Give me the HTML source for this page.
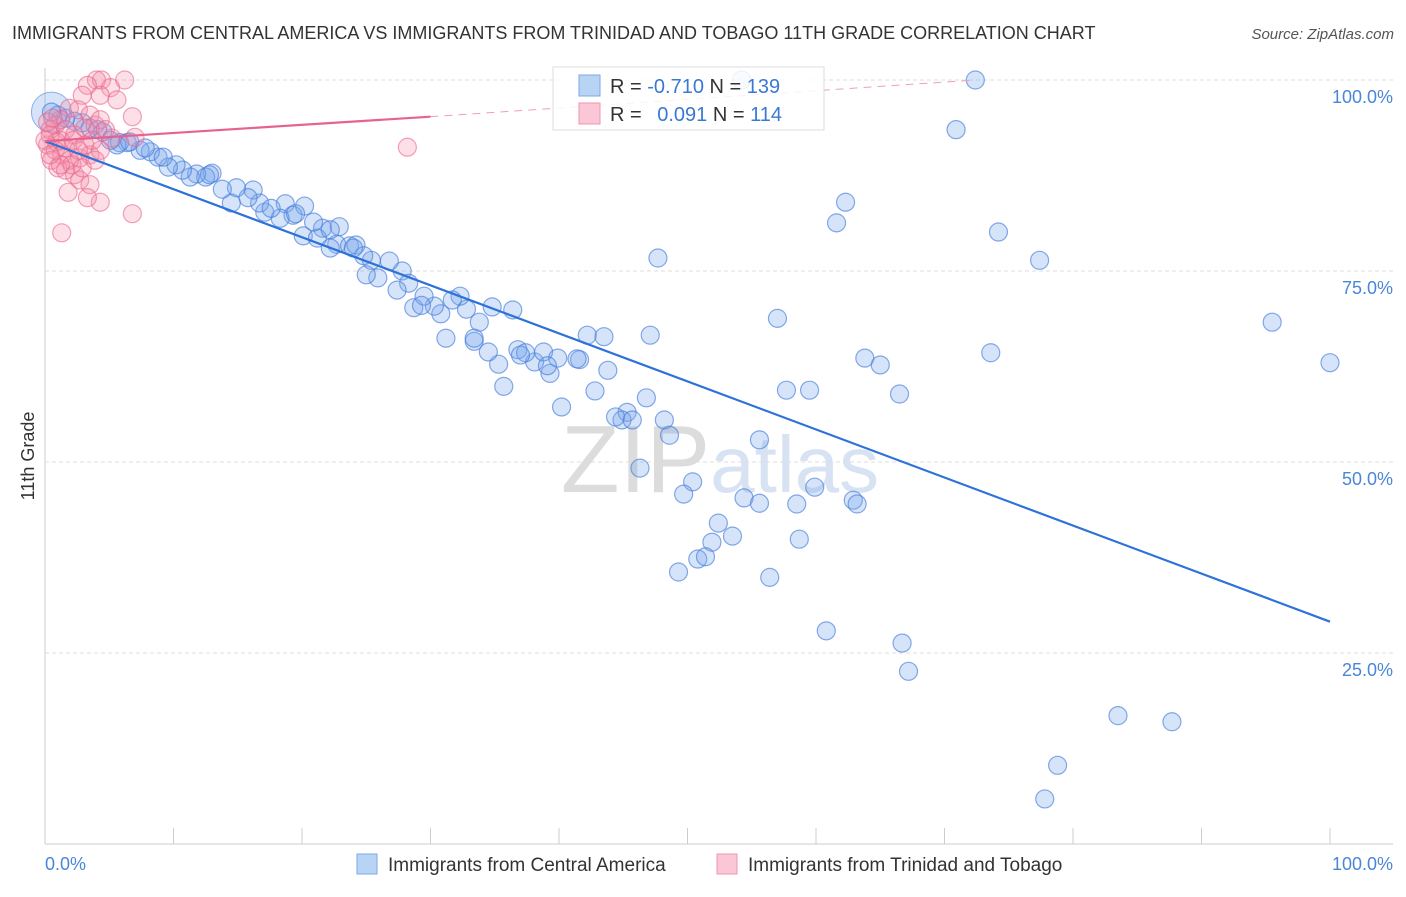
<!DOCTYPE html>
<html><head><meta charset="utf-8"><style>
body{margin:0;background:#fff;width:1406px;height:892px;overflow:hidden;font-family:"Liberation Sans",sans-serif}
svg text{font-family:"Liberation Sans",sans-serif}
</style></head><body>
<svg id="c" width="1406" height="892" xmlns="http://www.w3.org/2000/svg">
<text x="12" y="39" font-size="18" fill="#333">IMMIGRANTS FROM CENTRAL AMERICA VS IMMIGRANTS FROM TRINIDAD AND TOBAGO 11TH GRADE CORRELATION CHART</text>
<text x="1394" y="39" font-size="15" fill="#555" font-style="italic" text-anchor="end">Source: ZipAtlas.com</text>
<text x="34" y="456" font-size="18" fill="#333" text-anchor="middle" transform="rotate(-90 34 456)">11th Grade</text>
<text x="720" y="492" font-size="96" fill="#e6e6e6" text-anchor="middle" font-family="Liberation Serif"><tspan fill="#dcdcdc">ZIP</tspan><tspan fill="#d7e3f3" font-family="Liberation Sans" font-size="80">atlas</tspan></text>
<g id="grid"></g><g id="pts"></g><g id="lines"></g>
<g>
<rect x="553" y="67" width="271" height="63" fill="#fff" fill-opacity="0.85" stroke="#ddd"/>
<rect x="579" y="75" width="21" height="21" fill="#b9d3f5" stroke="#7aa8e8"/>
<rect x="579" y="103" width="21" height="21" fill="#fbc7d6" stroke="#ee94b0"/>
<text x="610" y="93" font-size="20" fill="#333">R = <tspan fill="#3a78d6">-0.710</tspan>   N = <tspan fill="#3a78d6">139</tspan></text>
<text x="610" y="121" font-size="20" fill="#333">R = <tspan fill="#3a78d6" dx="10">0.091</tspan>   N = <tspan fill="#3a78d6">114</tspan></text>
</g>
<g>
<rect x="357" y="854" width="20" height="20" fill="#b9d3f5" stroke="#7aa8e8"/>
<text x="388" y="871" font-size="19" fill="#333">Immigrants from Central America</text>
<rect x="717" y="854" width="20" height="20" fill="#fbc7d6" stroke="#ee94b0"/>
<text x="748" y="871" font-size="19" fill="#333">Immigrants from Trinidad and Tobago</text>
</g>
<text x="45" y="870" font-size="18" fill="#4a86d8">0.0%</text>
<text x="1393" y="870" font-size="18" fill="#4a86d8" text-anchor="end">100.0%</text>
</svg>
<script>
const blueX=[72.4,70.9,62.3,61.6,74.2,77.4,47.7,95.5,100,57.0,73.6,63.8,65.0,66.5,47.1,42.2,43.5,57.7,59.5,55.6,48.2,45.3,44.9,46.8,48.6,46.3,50.4,49.7,54.4,55.6,58.5,59.9,62.9,63.2,52.4,51.9,53.5,58.7,50.8,51.4,49.3,56.4,60.8,66.7,67.2,83.5,87.7,78.8,77.8,54.2,40.2,42.8,43.8,39.3,38.1,38.8,36.8,41.6,39.9,37.4,35.7,35.3,34.5,33.4,31.2,33.8,32.8,34.8,36.4,32.3,30.8,30.3,28.7,29.5,31.7,27.8,28.3,27.4,26.8,25.9,25.4,25.0,22.7,23.7,24.2,24.8,21.6,22.9,20.1,21.2,22.2,20.2,20.9,18.7,19.3,18.3,17.1,16.7,16.2,15.8,14.9,14.5,13.8,13.0,12.5,11.8,11.3,10.7,10.2,9.6,8.8,8.2,7.4,6.4,5.8,5.6,5.1,4.5,4.1,3.5,2.9,2.3,1.6,1.0,0.5,6.6,7.8,9.2,12.8,17.6,19.5,22.2,24.0,29.3,33.4,37.0,39.1,41.4,44.4,45.7];
const blueY=[100,93.5,84.0,81.3,80.1,76.4,76.7,68.3,63.0,68.8,64.3,63.6,62.7,58.9,66.6,66.6,66.4,59.4,59.4,52.9,55.5,56.5,55.5,58.4,53.5,49.2,47.4,45.8,45.3,44.6,44.5,46.7,45.0,44.5,42.0,39.5,40.3,39.9,37.3,37.6,35.6,34.9,27.9,26.3,22.6,16.8,16.0,10.3,5.9,100,57.2,59.3,62.0,61.6,63.1,64.4,64.7,63.4,63.6,64.3,59.9,62.8,64.4,65.8,66.2,68.3,70.0,70.3,69.9,71.7,69.4,70.4,70.2,71.7,71.2,75.0,73.4,72.5,76.3,74.1,76.4,74.5,78.5,78.3,78.4,77.0,80.6,80.8,79.6,79.3,78.0,83.5,81.4,83.8,82.3,81.9,82.7,83.9,85.6,84.6,85.9,83.9,85.7,87.8,87.3,87.7,87.3,88.2,88.9,88.6,89.9,90.6,90.8,91.8,91.8,91.5,92.1,93.2,93.5,93.7,94.4,94.6,95.0,95.4,95.8,91.9,91.1,89.9,87.6,83.2,82.5,80.4,78.0,70.5,66.2,64.0,62.6,63.5,55.9,55.5];
const pinkX=[4.0,4.4,6.2,3.3,5.1,2.9,4.3,5.6,6.8,1.9,2.6,3.5,1.2,0.8,0.4,1.6,2.3,3.1,3.9,4.3,4.7,5.2,7.0,1.2,0.2,0.8,1.3,1.9,2.7,3.5,4.3,0.5,1.0,1.6,2.3,2.7,1.8,3.5,4.3,3.3,6.8,1.3,28.2,0.4,0.9,1.6,2.2,0.2,0.6,2.6,3.1,3.7,2.1,1.2,0,0.4,2.9,3.9];
const pinkY=[100,100,100,99.3,99.0,98.0,98.0,97.4,95.2,96.3,96.1,95.4,94.8,94.1,93.5,93.5,92.8,93.7,94.1,94.8,93.5,92.4,92.5,92.1,91.5,90.8,90.2,89.5,89.8,90.2,90.8,89.5,88.5,88.2,87.6,86.9,85.3,86.3,84.0,84.6,82.5,80.0,91.2,92.8,91.9,91.1,92.1,94.5,95.0,90.8,91.5,92.1,88.9,88.9,92.1,90.2,88.5,89.5];
const blueTrend=[92.0,29.1];
const pinkTrend=[92.0,95.2,100];
const pinkTrendX=[0,30,72.4];
const yTicks=[25,50,75,100];
const xTicks=[0,10,20,30,40,50,60,70,80,90,100];
const X=v=>45+v*12.85, Y=v=>844-v*7.64;
const NS="http://www.w3.org/2000/svg";
function mk(t,a,p){const e=document.createElementNS(NS,t);for(const k in a)e.setAttribute(k,a[k]);p.appendChild(e);return e;}
const grid=document.getElementById('grid'),pts=document.getElementById('pts'),lines=document.getElementById('lines');
mk('line',{x1:45,y1:68,x2:45,y2:844,stroke:'#ccc'},grid);
mk('line',{x1:45,y1:844,x2:1393,y2:844,stroke:'#ccc'},grid);
yTicks.forEach(v=>{
 const l=mk('line',{x1:45,y1:Y(v),x2:1393,y2:Y(v),stroke:'#ddd','stroke-dasharray':'4 3'},grid);
 
 
 const t=mk('text',{x:1393,y:Y(v)+23,'font-size':18,fill:'#4a86d8','text-anchor':'end'},grid);
 t.textContent=v.toFixed(1)+'%';
 
 
});
xTicks.forEach(v=>{
 const l=mk('line',{x1:X(v),y1:828,x2:X(v),y2:844,stroke:'#ccc'},grid);
 
 
});
const bb=mk('circle',{cx:X(0.5),cy:Y(95.8),r:20,fill:'rgba(120,165,235,0.3)',stroke:'rgba(80,130,220,0.6)'},pts);


blueX.forEach((x,i)=>{
 const c=mk('circle',{cx:X(x),cy:Y(blueY[i]),r:9,fill:'rgba(120,165,235,0.3)',stroke:'rgba(70,125,220,0.65)','stroke-width':1.2},pts);
 
 
});
pinkX.forEach((x,i)=>{
 const c=mk('circle',{cx:X(x),cy:Y(pinkY[i]),r:9,fill:'rgba(245,140,170,0.28)',stroke:'rgba(235,100,140,0.6)','stroke-width':1.2},pts);
 
 
});
const bl=mk('line',{x1:X(0),y1:Y(blueTrend[0]),x2:X(100),y2:Y(blueTrend[1]),stroke:'#2d72d9','stroke-width':2.2},lines);


const pl=mk('line',{x1:X(pinkTrendX[0]),y1:Y(pinkTrend[0]),x2:X(pinkTrendX[1]),y2:Y(pinkTrend[1]),stroke:'#e8628f','stroke-width':2.2},lines);


const pd=mk('line',{x1:X(pinkTrendX[1]),y1:Y(pinkTrend[1]),x2:X(pinkTrendX[2]),y2:Y(pinkTrend[2]),stroke:'#eea0b8','stroke-width':1,'stroke-dasharray':'8 6'},lines);


</script>
</body></html>
